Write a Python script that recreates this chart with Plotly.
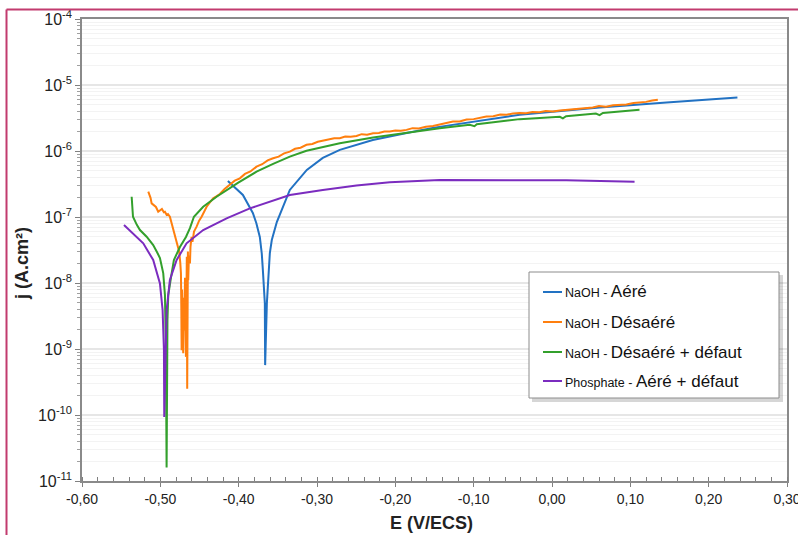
import plotly.graph_objects as go

# Polarisation curves: potential E (V/ECS) and current density j (A.cm²)
E_naoh_aere = [-0.4138, -0.4046, -0.3946, -0.3819, -0.3775, -0.3730, -0.3705, -0.3691, -0.3666,
               -0.3662, -0.3640, -0.3602, -0.3577, -0.3513, -0.3436, -0.3347, -0.3130, -0.2926,
               -0.2709, -0.2496, -0.2288, -0.1855, -0.1523, -0.0413, 0.0607, 0.1462, 0.2367]
j_naoh_aere = [3.5e-7, 2.8e-7, 2.16e-7, 1.15e-7, 8.1e-8, 4.98e-8, 2.8e-8, 1.57e-8, 4.96e-9,
               5.7e-10, 4.96e-9, 2.84e-8, 4.48e-8, 8.4e-8, 1.42e-7, 2.57e-7, 5.16e-7, 7.85e-7,
               1.04e-6, 1.24e-6, 1.47e-6, 1.88e-6, 2.24e-6, 3.53e-6, 4.56e-6, 5.42e-6, 6.45e-6]

E_naoh_desaere = [-0.5154, -0.5125, -0.5111, -0.5080, -0.5056, -0.5027, -0.5000, -0.4980, -0.4955,
                  -0.4941, -0.4920, -0.4903, -0.4878, -0.4855, -0.4835, -0.4812, -0.4792, -0.4775,
                  -0.4759, -0.4745, -0.4737, -0.4732, -0.4728, -0.4722, -0.4718, -0.4712, -0.4708,
                  -0.4700, -0.4693, -0.4685, -0.4673, -0.4667, -0.4662, -0.4657, -0.4651, -0.4648,
                  -0.4644, -0.4635, -0.4622, -0.4615, -0.4601, -0.4590, -0.4570, -0.4537, -0.4505,
                  -0.4473, -0.4440, -0.4409, -0.4370, -0.4325, -0.4285, -0.4240, -0.4180, -0.4112,
                  -0.4050, -0.3985, -0.3920, -0.3850, -0.3772, -0.3700, -0.3630, -0.3560, -0.3490,
                  -0.3420, -0.3347, -0.3280, -0.3210, -0.3134, -0.3060, -0.2990, -0.2922, -0.2850,
                  -0.2780, -0.2709, -0.2640, -0.2570, -0.2496, -0.2430, -0.2360, -0.2284, -0.2210,
                  -0.2140, -0.2071, -0.2000, -0.1930, -0.1858, -0.1780, -0.1700, -0.1610, -0.1519,
                  -0.1430, -0.1350, -0.1264, -0.1180, -0.1090, -0.1000, -0.0920, -0.0838, -0.0750,
                  -0.0660, -0.0580, -0.0500, -0.0413, -0.0330, -0.0250, -0.0160, -0.0080, 0.0012,
                  0.0100, 0.0180, 0.0270, 0.0350, 0.0437, 0.0520, 0.0600, 0.0690, 0.0780, 0.0862,
                  0.0950, 0.1040, 0.1120, 0.1200, 0.1280, 0.1351]
j_naoh_desaere = [2.42e-7, 1.95e-7, 1.61e-7, 1.50e-7, 1.42e-7, 1.20e-7, 1.28e-7, 1.32e-7, 1.18e-7,
                  1.20e-7, 1.08e-7, 1.11e-7, 1.01e-7, 8.0e-8, 6.35e-8, 5.0e-8, 3.99e-8, 3.3e-8,
                  2.97e-8, 2.0e-8, 1.40e-8, 4.0e-9, 9.6e-10, 8.0e-9, 5.5e-9, 2.7e-9, 8.6e-10,
                  6.0e-9, 1.9e-9, 1.2e-8, 7.6e-10, 5.5e-9, 2.5e-8, 2.5e-10, 7.8e-9, 3.0e-8,
                  1.1e-8, 2.6e-8, 1.98e-8, 3.54e-8, 5.02e-8, 4.2e-8, 6.0e-8, 7.13e-8, 8.8e-8,
                  1.01e-7, 1.25e-7, 1.43e-7, 1.65e-7, 1.92e-7, 2.05e-7, 2.23e-7, 2.65e-7, 3.11e-7,
                  3.55e-7, 3.86e-7, 4.5e-7, 4.9e-7, 5.79e-7, 6.3e-7, 7.2e-7, 7.78e-7, 8.2e-7,
                  9.2e-7, 9.8e-7, 1.08e-6, 1.12e-6, 1.24e-6, 1.28e-6, 1.38e-6, 1.44e-6, 1.47e-6,
                  1.56e-6, 1.56e-6, 1.66e-6, 1.64e-6, 1.69e-6, 1.80e-6, 1.77e-6, 1.86e-6, 1.88e-6,
                  1.98e-6, 1.97e-6, 2.05e-6, 2.02e-6, 2.09e-6, 2.22e-6, 2.20e-6, 2.33e-6, 2.40e-6,
                  2.52e-6, 2.60e-6, 2.79e-6, 2.80e-6, 3.00e-6, 3.04e-6, 3.18e-6, 3.33e-6, 3.36e-6,
                  3.56e-6, 3.55e-6, 3.70e-6, 3.75e-6, 3.74e-6, 3.90e-6, 3.88e-6, 4.05e-6, 3.97e-6,
                  4.12e-6, 4.20e-6, 4.25e-6, 4.42e-6, 4.46e-6, 4.55e-6, 4.80e-6, 4.70e-6, 4.95e-6,
                  5.00e-6, 5.05e-6, 5.35e-6, 5.38e-6, 5.55e-6, 5.80e-6, 5.96e-6]

E_naoh_desaere_defaut = [-0.5366, -0.5355, -0.5349, -0.5300, -0.5260, -0.5175, -0.5091, -0.5040,
                         -0.5005, -0.4963, -0.4941, -0.4929, -0.4920, -0.4909, -0.4899, -0.4865,
                         -0.4827, -0.4750, -0.4673, -0.4622, -0.4571, -0.4453, -0.4282, -0.4010,
                         -0.3772, -0.3560, -0.3347, -0.3134, -0.2709, -0.2284, -0.1858, -0.1434,
                         -0.1051, -0.0990, -0.0960, -0.0413, 0.0100, 0.0139, 0.0180, 0.0560,
                         0.0607, 0.0650, 0.1117]
j_naoh_desaere_defaut = [2.03e-7, 1.5e-7, 1.01e-7, 7.6e-8, 6.35e-8, 5.02e-8, 3.76e-8, 2.9e-8,
                         2.39e-8, 1.41e-8, 6.55e-9, 8.6e-10, 1.6e-11, 2.74e-9, 6.55e-9, 1.19e-8,
                         2.23e-8, 3.51e-8, 4.98e-8, 6.8e-8, 1.01e-7, 1.43e-7, 2.03e-7, 3.28e-7,
                         4.86e-7, 6.37e-7, 8.22e-7, 1.01e-6, 1.31e-6, 1.60e-6, 1.90e-6, 2.22e-6,
                         2.49e-6, 2.38e-6, 2.55e-6, 3.04e-6, 3.30e-6, 3.12e-6, 3.36e-6, 3.70e-6,
                         3.50e-6, 3.78e-6, 4.21e-6]

E_phosphate = [-0.5464, -0.5346, -0.5218, -0.5091, -0.5005, -0.4971, -0.4954, -0.4950, -0.4935,
               -0.4920, -0.4878, -0.4792, -0.4665, -0.4453, -0.4154, -0.3857, -0.3347, -0.2926,
               -0.2496, -0.2071, -0.1434, -0.0668, 0.0182, 0.1054]
j_phosphate = [7.57e-8, 5.66e-8, 3.99e-8, 2.23e-8, 9.86e-9, 3.88e-9, 9.6e-10, 9.3e-11, 4.8e-10,
               3.88e-9, 1.11e-8, 2.23e-8, 3.99e-8, 6.35e-8, 9.55e-8, 1.35e-7, 2.16e-7, 2.57e-7,
               2.99e-7, 3.36e-7, 3.64e-7, 3.64e-7, 3.60e-7, 3.43e-7]

series = [
    ("NaOH - ", "Aéré", E_naoh_aere, j_naoh_aere, "#2272c3"),
    ("NaOH - ", "Désaéré", E_naoh_desaere, j_naoh_desaere, "#ff7f0e"),
    ("NaOH - ", "Désaéré + défaut", E_naoh_desaere_defaut, j_naoh_desaere_defaut, "#33a02c"),
    ("Phosphate - ", "Aéré + défaut", E_phosphate, j_phosphate, "#7b2cbf"),
]

x_ticks = [-0.6, -0.5, -0.4, -0.3, -0.2, -0.1, 0.0, 0.1, 0.2, 0.3]
x_ticktext = ["-0,60", "-0,50", "-0,40", "-0,30", "-0,20", "-0,10", "0,00", "0,10", "0,20", "0,30"]
y_exponents = [-11, -10, -9, -8, -7, -6, -5, -4]

# Figure / plot-area geometry in pixels
W, H = 798, 535
L, R, T, B = 82, 787, 19, 481
FONT = "Arial, 'Liberation Sans', sans-serif"


def px_x(px):
    return (px - L) / (R - L)


def px_y(py):
    return (B - py) / (B - T)


fig = go.Figure()
for prefix, name, E, j, color in series:
    fig.add_trace(go.Scatter(x=E, y=j, mode="lines", name=prefix + name,
                             line=dict(color=color, width=2), showlegend=False))

minor_y = [m * 10.0 ** e for e in y_exponents[:-1] for m in range(2, 10)]

fig.update_layout(
    width=W, height=H,
    margin=dict(l=L, r=W - R, t=T, b=H - B, pad=0),
    paper_bgcolor="white", plot_bgcolor="white",
    font=dict(family=FONT, color="#222"),
    xaxis=dict(
        range=[-0.6, 0.3], tickmode="array", tickvals=x_ticks, ticktext=x_ticktext,
        tickfont=dict(size=14, color="#222"), ticks="outside", ticklen=4,
        tickcolor="#808080", showgrid=False, zeroline=False,
        ticklabeloverflow="allow", automargin=False,
        showline=True, linecolor="#8a8a8a", linewidth=1.5, mirror=True,
        minor=dict(dtick=0.02, ticks="inside", ticklen=4, tickcolor="#808080", showgrid=False),
    ),
    yaxis=dict(
        type="log", range=[-11, -4], tickmode="array",
        tickvals=[10.0 ** e for e in y_exponents],
        ticktext=["10<sup>%d</sup>" % e for e in y_exponents],
        tickfont=dict(size=16, color="#222"), ticks="outside", ticklen=5,
        tickcolor="#808080", showgrid=True, gridcolor="#e6e6e6", gridwidth=1.5,
        zeroline=False, showline=True, linecolor="#8a8a8a", linewidth=1.5, mirror=True,
        ticklabeloverflow="allow", automargin=False,
        minor=dict(tickvals=minor_y, ticks="outside", ticklen=3, tickcolor="#a0a0a0",
                   showgrid=True, gridcolor="#f3f3f3", gridwidth=1),
    ),
)

shapes = []
# crimson frame around the figure
shapes.append(dict(type="line", xref="paper", yref="paper", x0=px_x(6.5), x1=px_x(W + 5),
                   y0=px_y(9.5), y1=px_y(9.5), line=dict(color="#c23b6e", width=2)))
shapes.append(dict(type="line", xref="paper", yref="paper", x0=px_x(6.5), x1=px_x(6.5),
                   y0=px_y(9.5), y1=px_y(H + 5), line=dict(color="#c23b6e", width=2)))

# legend box with shadow
lx0, lx1, ly0, ly1 = 529, 779, 272, 398
shapes.append(dict(type="rect", xref="paper", yref="paper", layer="above",
                   x0=px_x(lx0 + 3), x1=px_x(lx1 + 4), y0=px_y(ly0 + 3), y1=px_y(ly1 + 4),
                   fillcolor="rgba(0,0,0,0.16)", line=dict(width=0)))
shapes.append(dict(type="rect", xref="paper", yref="paper", layer="above",
                   x0=px_x(lx0), x1=px_x(lx1), y0=px_y(ly0), y1=px_y(ly1),
                   fillcolor="white", line=dict(color="#8c8c8c", width=1)))

annotations = []
rows = [292, 322, 352, 381]
for (prefix, name, E, j, color), ry in zip(series, rows):
    shapes.append(dict(type="line", xref="paper", yref="paper", layer="above",
                       x0=px_x(543), x1=px_x(562), y0=px_y(ry), y1=px_y(ry),
                       line=dict(color=color, width=2)))
    annotations.append(dict(
        xref="paper", yref="paper", x=px_x(563), y=px_y(ry), xanchor="left", yanchor="middle",
        showarrow=False, font=dict(family=FONT, size=17, color="#111"),
        text="<span style='font-size:12.5px'>%s</span>%s" % (prefix, name)))

# axis titles
annotations.append(dict(xref="paper", yref="paper", x=px_x(431), y=px_y(523),
                        xanchor="center", yanchor="middle", showarrow=False,
                        text="<b>E (V/ECS)</b>", font=dict(family=FONT, size=18, color="#222")))
annotations.append(dict(xref="paper", yref="paper", x=px_x(22), y=px_y(264),
                        xanchor="center", yanchor="middle", showarrow=False, textangle=-90,
                        text="<b>j (A.cm²)</b>", font=dict(family=FONT, size=18, color="#222")))

fig.update_layout(shapes=shapes, annotations=annotations)
fig.write_html("out.html")
